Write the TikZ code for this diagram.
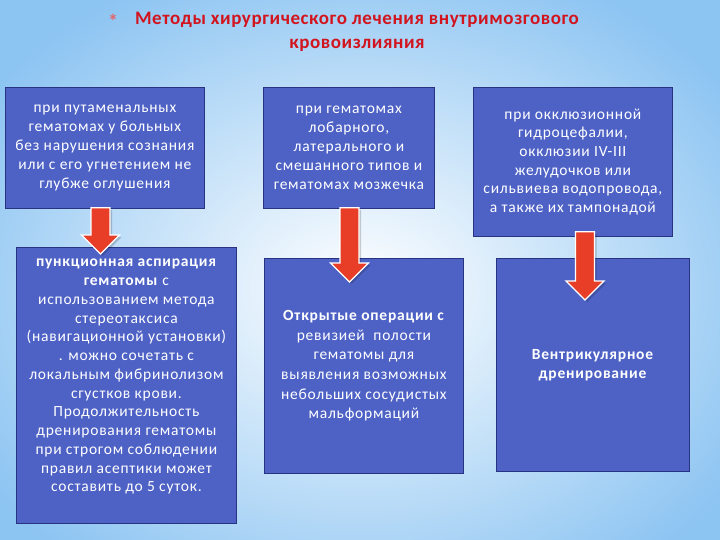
\documentclass[tikz,border=0pt]{standalone}
\usepackage{fontspec}
\setmainfont{Carlito}
\usetikzlibrary{calc}
\definecolor{boxfill}{RGB}{78,98,198}
\definecolor{boxline}{RGB}{40,52,130}
\definecolor{arrowred}{RGB}{232,62,40}
\definecolor{titlered}{RGB}{210,20,30}
\definecolor{bgblue}{RGB}{140,196,242}
\newcommand{\boxfont}[1]{\fontsize{15.5}{#1}\selectfont\addfontfeatures{LetterSpace=5}}
\tikzset{
  box/.style={draw=boxline, line width=0.8pt, fill=boxfill, text=white, align=center,
    inner sep=0pt, anchor=north west, font=\boxfont{19}},
  boxtext/.style={text=white, align=center, inner sep=0pt, font=\boxfont{18.75}},
  fatarrow/.style={fill=arrowred, draw=white, line width=1.2pt, line join=miter},
}
\newcommand{\myarrow}[2]{%
  \fill[black, opacity=0.18] let \p1=(#1), \p2=(#2) in
    (\x1-9.5pt+2pt,\y1-2pt) -- (\x1+9.5pt+2pt,\y1-2pt) -- (\x1+9.5pt+2pt,\y2+19pt-2pt) -- (\x1+19pt+2pt,\y2+19pt-2pt)
    -- (\x1+2pt,\y2-2pt) -- (\x1-19pt+2pt,\y2+19pt-2pt) -- (\x1-9.5pt+2pt,\y2+19pt-2pt) -- cycle;
  \path[fatarrow] let \p1=(#1), \p2=(#2) in
    (\x1-9.5pt,\y1) -- (\x1+9.5pt,\y1) -- (\x1+9.5pt,\y2+19pt) -- (\x1+19pt,\y2+19pt)
    -- (\x1,\y2) -- (\x1-19pt,\y2+19pt) -- (\x1-9.5pt,\y2+19pt) -- cycle;}
\begin{document}
\begin{tikzpicture}[x=1pt,y=-1pt]
\useasboundingbox (0,0) rectangle (720,540);
\shade[inner color=white, outer color=bgblue] (-90,-60) rectangle (810,640);
% title
\node[text=titlered!65!white, font=\fontsize{20}{20}\selectfont\bfseries] (star) at (113,21) {*};
\node[text=titlered, align=center, font=\fontsize{19}{24}\selectfont\bfseries\addfontfeatures{LetterSpace=3}] (title) at (357,32)
  {Методы хирургического лечения внутримозгового\\кровоизлияния};
% top boxes
\node[box, minimum width=199pt, minimum height=121pt] (b1) at (5,87)
  {при путаменальных\\гематомах у больных\\без нарушения сознания\\или с его угнетением не\\глубже оглушения};
\node[box, minimum width=171pt, minimum height=121pt] (b2) at (263,87)
  {при гематомах\\лобарного,\\латерального и\\смешанного типов и\\гематомах мозжечка};
\node[box, minimum width=199pt, minimum height=149pt, font=\boxfont{18.6}] (b3) at (473,87)
  {при окклюзионной\\гидроцефалии,\\окклюзии IV-III\\желудочков или\\сильвиева водопровода,\\а также их тампонадой};
% bottom boxes
\node[box, minimum width=220pt, minimum height=276pt] (b4) at (16,247) {};
\node[boxtext, anchor=north] (b4t) at ($(b4.north)+(0,12)$)
  {\textbf{пункционная аспирация}\\\textbf{гематомы} с\\использованием метода\\стереотаксиса\\(навигационной установки)\\. можно сочетать с\\локальным фибринолизом\\сгустков крови.\\Продолжительность\\дренирования гематомы\\при строгом соблюдении\\правил асептики может\\составить до 5 суток.};
\node[box, minimum width=199pt, minimum height=215pt, font=\boxfont{19.6}] (b5) at (264,258)
  {\textbf{Открытые операции с}\\ревизией\ \ полости\\гематомы для\\выявления возможных\\небольших сосудистых\\мальформаций};
\node[box, minimum width=193pt, minimum height=213pt] (b6) at (496,258)
  {\textbf{Вентрикулярное}\\\textbf{дренирование}};
% arrows
\coordinate (a1s) at ($(b1.south west)+(95.5,-1)$);
\coordinate (a1e) at ($(b4.north west)+(84.5,7)$);
\coordinate (a2s) at ($(b2.south west)+(86.5,-1)$);
\coordinate (a2e) at ($(b5.north west)+(85.5,24)$);
\coordinate (a3s) at ($(b3.south west)+(112,-5)$);
\coordinate (a3e) at ($(b6.north west)+(89,42)$);
\myarrow{a1s}{a1e}
\myarrow{a2s}{a2e}
\myarrow{a3s}{a3e}
\end{tikzpicture}
\end{document}
